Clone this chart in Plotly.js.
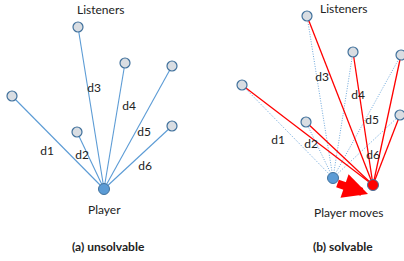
<!DOCTYPE html>
<html><head><meta charset="utf-8">
<script src="https://cdn.plot.ly/plotly-3.0.1.min.js"></script>
<style>html,body{margin:0;padding:0;background:#fff}#c{width:404px;height:261px}</style>
</head><body><div id="c"></div>
<script>
// Panel (a): unsolvable
const labels = ["d1","d2","d3","d4","d5","d6"];
const listenersA_x = [12, 77, 78, 125, 172, 172];
const listenersA_y = [96, 132, 27, 63, 66, 126];
const playerA = [104, 189];
const labelA_x = [47, 82, 94, 129, 144, 145];
const labelA_y = [152, 156, 89, 107, 133, 167];
// Panel (b): solvable
const listenersB_x = [242, 306, 307, 353, 401, 400];
const listenersB_y = [85, 122, 16, 52, 55, 115];
const playerB_old = [333, 178];
const playerB_new = [373, 185];
const labelB_x = [278, 311, 322, 358, 372, 373];
const labelB_y = [141, 145, 78, 96, 121, 156];

const FONT = "Lato, 'Open Sans', sans-serif";
function spokes(px, py, xs, ys) {
  const X = [], Y = [];
  xs.forEach((x, i) => { X.push(px, x, null); Y.push(py, ys[i], null); });
  return {X, Y};
}
const sA = spokes(playerA[0], playerA[1], listenersA_x, listenersA_y);
const sBo = spokes(playerB_old[0], playerB_old[1], listenersB_x, listenersB_y);
const sBn = spokes(playerB_new[0], playerB_new[1], listenersB_x, listenersB_y);

const listenerMarker = {size: 10, color: "#d9dde2", line: {color: "#41719c", width: 1.2}};
const traces = [
  {x: sA.X, y: sA.Y, mode: "lines", line: {color: "#5b9bd5", width: 1.1}, hoverinfo: "skip"},
  {x: sBo.X, y: sBo.Y, mode: "lines", line: {color: "#6fa8dc", width: 1, dash: "1px,1.5px"}, hoverinfo: "skip"},
  {x: sBn.X, y: sBn.Y, mode: "lines", line: {color: "#ff0000", width: 1.3}, hoverinfo: "skip"},
  {x: listenersA_x, y: listenersA_y, mode: "markers", marker: listenerMarker},
  {x: listenersB_x, y: listenersB_y, mode: "markers", marker: listenerMarker},
  {x: [playerA[0], playerB_old[0]], y: [playerA[1], playerB_old[1]], mode: "markers",
   marker: {size: 11, color: "#5b9bd5", line: {color: "#41719c", width: 1}}},
  {x: [playerB_new[0]], y: [playerB_new[1]], mode: "markers",
   marker: {size: 11, color: "#ff0000", line: {color: "#41719c", width: 1}}},
  {x: labelA_x.concat(labelB_x), y: labelA_y.concat(labelB_y), mode: "text",
   text: labels.concat(labels), textfont: {family: FONT, size: 12, color: "#222"}, hoverinfo: "skip"}
];

const ann = (x, y, t, bold) => ({x, y, text: bold ? "<b>" + t + "</b>" : t, showarrow: false,
  font: {family: FONT, size: 12, color: "#222"}, xref: "x", yref: "y"});
const annotations = [
  ann(100, 9, "Listeners"), ann(104, 209, "Player"), ann(108, 246, "(a) unsolvable", true),
  ann(343, 8, "Listeners"), ann(348, 212, "Player moves"), ann(343, 246, "(b) solvable", true),
  {x: playerB_new[0] - 5, y: playerB_new[1] + 9, ax: playerB_old[0] + 3, ay: playerB_old[1] + 5,
   axref: "x", ayref: "y", xref: "x", yref: "y", text: "", showarrow: true,
   arrowhead: 2, arrowsize: 0.62, arrowwidth: 8, arrowcolor: "#ff0000",
   standoff: 0, startstandoff: 0}
];

const layout = {
  width: 404, height: 261, margin: {l: 0, r: 0, t: 0, b: 0},
  paper_bgcolor: "#fff", plot_bgcolor: "#fff", showlegend: false,
  xaxis: {range: [0, 404], visible: false, fixedrange: true},
  yaxis: {range: [261, 0], visible: false, fixedrange: true},
  annotations
};
Plotly.newPlot("c", traces, layout, {staticPlot: true, displayModeBar: false});
</script></body></html>
